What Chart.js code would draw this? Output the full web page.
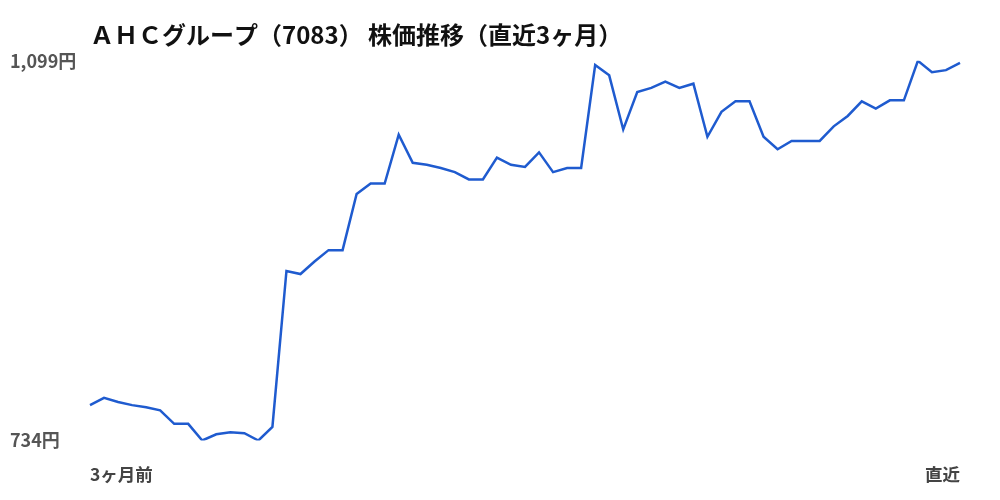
<!DOCTYPE html>
<html lang="ja">
<head>
<meta charset="utf-8">
<title>AHCグループ 株価推移</title>
<script src="https://cdn.jsdelivr.net/npm/chart.js@4.4.1/dist/chart.umd.min.js"></script>
<style>
  html, body { margin: 0; padding: 0; background: #fff; overflow: hidden; }
  canvas { display: block; }
</style>
</head>
<body>
<canvas id="stockChart" width="1000" height="500"></canvas>
<script>
// 終値（直近3ヶ月、古い順）
const closePrices = [
    768, 775, 771, 768, 766, 763, 750, 750, 734, 740,
    742, 741, 734, 747, 897, 894, 906, 917, 917, 971,
    981, 981, 1028, 1001, 999, 996, 992, 985, 985, 1006,
    999, 997, 1011, 992, 996, 996, 1095, 1085, 1033, 1069,
    1073, 1079, 1073, 1077, 1026, 1050, 1060, 1060, 1026, 1014,
    1022, 1022, 1022, 1036, 1046, 1060, 1053, 1061, 1061, 1099,
    1088, 1090, 1097
];
const startLabel = '3ヶ月前';
const endLabel = '直近';
const minPrice = 734;
const maxPrice = 1099;

const dayLabels = closePrices.map(function (v, i) { return i; });

const font = '"Noto Sans CJK JP", "Noto Sans", sans-serif';

const ctx = document.getElementById('stockChart');
new Chart(ctx, {
    type: 'line',
    data: {
        labels: dayLabels,
        datasets: [{
            data: closePrices,
            borderColor: '#1f5bcf',
            borderWidth: 2.5,
            pointRadius: 0,
            tension: 0,
            fill: false
        }]
    },
    options: {
        responsive: false,
        animation: false,
        layout: { padding: { top: 10, left: 10, right: 40, bottom: 15 } },
        plugins: {
            legend: { display: false },
            tooltip: { enabled: false },
            title: {
                display: true,
                text: 'ＡＨＣグループ（7083） 株価推移（直近3ヶ月）',
                align: 'start',
                fullSize: false,
                color: '#111',
                font: { family: font, size: 24, weight: 'bold' },
                padding: { top: 10, bottom: 12 }
            }
        },
        scales: {
            x: {
                grid: { display: false, drawTicks: false },
                border: { display: false },
                afterFit: function (scale) {
                    scale.height = 44.5;
                },
                ticks: {
                    autoSkip: false,
                    maxRotation: 0,
                    align: 'inner',
                    padding: 23,
                    color: '#444',
                    font: { family: font, size: 17.5, weight: 'bold' },
                    callback: function (value, index) {
                        if (index === 0) return startLabel;
                        if (index === closePrices.length - 1) return endLabel;
                        return '';
                    }
                }
            },
            y: {
                min: minPrice,
                max: maxPrice,
                grid: { display: false, drawTicks: false },
                border: { display: false },
                afterBuildTicks: function (scale) {
                    scale.ticks = [{ value: minPrice }, { value: maxPrice }];
                },
                afterFit: function (scale) {
                    scale.width = 80;
                },
                ticks: {
                    crossAlign: 'far',
                    color: '#555',
                    font: { family: font, size: 18, weight: 'bold' },
                    callback: function (value) {
                        return value.toLocaleString('ja-JP') + '円';
                    }
                }
            }
        }
    }
});
</script>
</body>
</html>
